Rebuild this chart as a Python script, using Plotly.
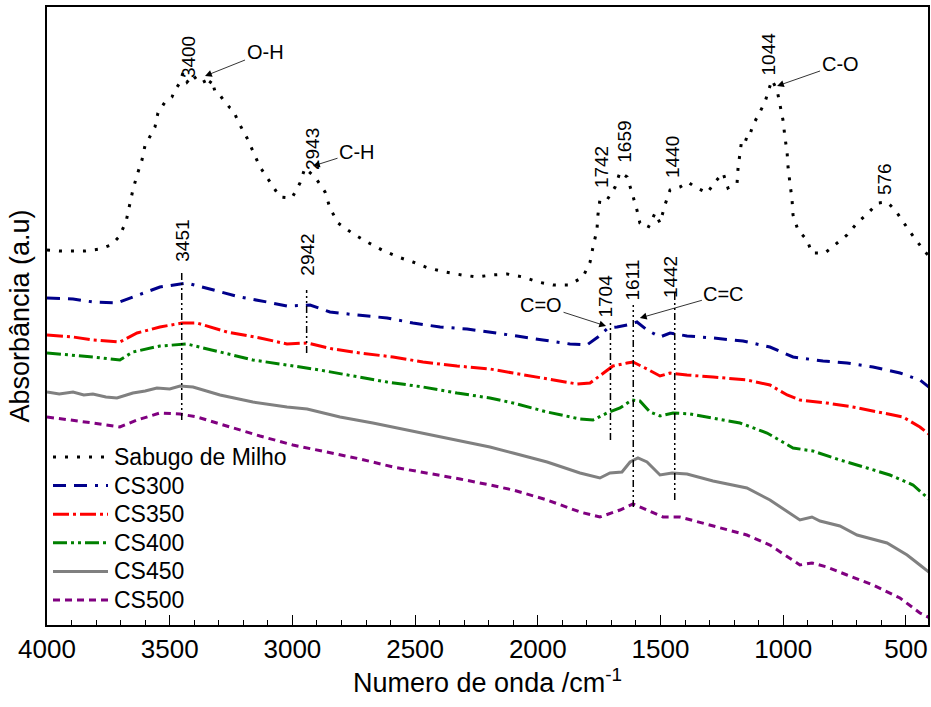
import plotly.graph_objects as go

# ---------------- data ----------------
wn_sabugo = [4000, 3947, 3894, 3845, 3784, 3739, 3707, 3678, 3666, 3650,
             3633, 3613, 3601, 3580, 3560, 3548, 3519, 3491, 3478, 3462,
             3446, 3429, 3405, 3389, 3364, 3348, 3328, 3315, 3295, 3287,
             3254, 3242, 3218, 3185, 3161, 3132, 3091, 3051, 3002, 2969,
             2949, 2908, 2867, 2847, 2814, 2757, 2696, 2635, 2570, 2509,
             2447, 2378, 2309, 2248, 2187, 2125, 2060, 1999, 1938, 1873,
             1816, 1787, 1775, 1759, 1755, 1747, 1718, 1685, 1665, 1636,
             1616, 1596, 1584, 1551, 1522, 1502, 1482, 1461, 1421, 1388,
             1359, 1310, 1278, 1245, 1225, 1188, 1184, 1176, 1168, 1143,
             1123, 1095, 1074, 1062, 1046, 1025, 1013, 1001, 993, 984,
             980, 972, 964, 960, 940, 903, 883, 830, 781, 740,
             699, 654, 614, 577, 544, 512, 483, 422, 398]
abs_sabugo = [375, 374, 374, 374, 376, 380, 388, 403, 417, 435,
              450, 465, 479, 488, 498, 512, 523, 528, 535, 541,
              552, 543, 550, 545, 546, 538, 545, 533, 530, 527,
              517, 515, 502, 487, 473, 458, 443, 428, 427, 442,
              457, 448, 433, 417, 402, 392, 383, 375, 368, 363,
              357, 353, 350, 348, 350, 351, 348, 343, 340, 340,
              348, 363, 378, 395, 410, 425, 425, 438, 453, 448,
              432, 415, 402, 397, 412, 402, 420, 435, 438, 443,
              438, 432, 443, 452, 437, 442, 457, 472, 487, 485,
              500, 513, 523, 533, 545, 535, 520, 505, 488, 472,
              457, 442, 425, 410, 395, 385, 372, 372, 382, 390,
              402, 412, 422, 423, 415, 403, 393, 373, 367]

wn_cs300 = [4000, 3894, 3813, 3715, 3650, 3540, 3430, 3324, 3214, 3104,
            3022, 2928, 2847, 2737, 2614, 2509, 2398, 2288, 2195, 2085,
            1979, 1869, 1800, 1755, 1714, 1677, 1636, 1596, 1555, 1502,
            1461, 1392, 1286, 1164, 1054, 960, 838, 740, 634, 524, 443, 402]
abs_cs300 = [327, 326, 323, 322, 328, 338, 342, 335, 328, 323,
             319, 320, 313, 310, 307, 302, 298, 296, 293, 289,
             285, 281, 280, 288, 297, 298, 300, 303, 295, 288,
             292, 289, 287, 284, 278, 268, 264, 262, 258, 252, 245, 237]

wn_cs350 = [4000, 3894, 3813, 3703, 3633, 3540, 3450, 3389, 3266, 3132,
            3022, 2940, 2835, 2724, 2590, 2468, 2329, 2195, 2101, 1962,
            1840, 1787, 1734, 1694, 1636, 1612, 1555, 1502, 1461, 1392,
            1286, 1148, 1054, 984, 932, 822, 716, 606, 512, 443, 402]
abs_cs350 = [290, 288, 285, 283, 292, 298, 302, 302, 293, 287,
             281, 282, 276, 272, 268, 263, 259, 256, 252, 246,
             241, 242, 252, 259, 262, 263, 256, 249, 252, 250,
             248, 245, 240, 230, 225, 222, 218, 213, 208, 198, 190]

wn_cs400 = [4000, 3894, 3813, 3703, 3650, 3540, 3430, 3295, 3161, 3022,
            2888, 2753, 2614, 2468, 2329, 2195, 2101, 1962, 1828, 1775,
            1718, 1665, 1616, 1584, 1543, 1502, 1449, 1380, 1286, 1176,
            1066, 960, 879, 769, 658, 565, 471, 402]
abs_cs400 = [272, 270, 268, 265, 273, 279, 281, 273, 265, 260,
             255, 249, 243, 238, 232, 227, 222, 213, 206, 205,
             212, 217, 225, 224, 213, 209, 212, 211, 207, 202,
             192, 177, 174, 165, 157, 150, 140, 125]

wn_cs450 = [4000, 3950, 3894, 3850, 3813, 3760, 3715, 3650, 3600, 3552,
            3500, 3458, 3405, 3295, 3161, 3022, 2940, 2806, 2672, 2533,
            2398, 2264, 2195, 2101, 1962, 1828, 1747, 1706, 1657, 1624,
            1592, 1555, 1502, 1453, 1392, 1286, 1148, 1054, 972, 932,
            883, 850, 769, 699, 577, 495, 443, 402]
abs_cs450 = [233, 231, 233, 230, 231, 228, 227, 232, 234, 237,
             236, 239, 238, 230, 223, 218, 216, 208, 202, 195,
             188, 182, 178, 172, 163, 152, 147, 152, 153, 163,
             167, 163, 150, 152, 151, 144, 137, 125, 112, 105,
             108, 104, 99, 90, 82, 70, 60, 52]

wn_cs500 = [4000, 3894, 3813, 3703, 3633, 3540, 3458, 3389, 3266, 3132,
            2998, 2859, 2724, 2590, 2452, 2317, 2195, 2101, 1962, 1828,
            1747, 1665, 1612, 1555, 1490, 1421, 1286, 1148, 1054, 984,
            932, 883, 822, 740, 634, 524, 443, 402]
abs_cs500 = [208, 205, 202, 198, 205, 212, 211, 208, 199, 189,
             180, 173, 166, 158, 152, 146, 140, 135, 125, 113,
             108, 115, 121, 115, 108, 108, 99, 90, 80, 68,
             60, 62, 58, 50, 40, 27, 12, 7]

series_names = ["Sabugo de Milho", "CS300", "CS350", "CS400", "CS450", "CS500"]
series_x = [wn_sabugo, wn_cs300, wn_cs350, wn_cs400, wn_cs450, wn_cs500]
series_y = [abs_sabugo, abs_cs300, abs_cs350, abs_cs400, abs_cs450, abs_cs500]
series_colors = ["#000000", "#00008B", "#FF0000", "#008000", "#808080", "#800080"]
series_dash = ["3px,9px", "13px,8px,13px,8px,3px,8px", "16px,4px,3px,4px",
               "14px,4px,3px,4px,3px,4px", "solid", "7px,5px"]

# vertical marker lines for the carbonised samples
peak_wn = [3451, 2942, 1704, 1611, 1442]
peak_y_low = [205, 272, 185, 118, 125]
peak_y_high = [355, 335, 305, 320, 335]

# rotated peak labels: text, position, bottom of label
label_text = ["3400", "2943", "3451", "2942", "1742", "1659", "1440", "1044",
              "576", "1704", "1611", "1442"]
label_wn = [3425, 2920, 3451, 2942, 1742, 1650, 1453, 1058, 589, 1726, 1616, 1461]
label_y = [545, 453, 361, 347, 435, 460, 445, 548, 428, 305, 322, 325]

# band assignments with arrows
band_text = ["O-H", "C-H", "C-O", "C=O", "C=C"]
band_wn = [3356, 2916, 1025, 1722, 1584]
band_y = [549, 459, 539, 299, 307]
band_ax = [60, 44, 63, -65, 84]
band_ay = [-24, -14, -22, -21, -24]

FONT = "Liberation Sans, Arial, sans-serif"
W, H = 931, 707
ML, MR, MT, MB = 47, 3, 7, 82

fig = go.Figure()

for name, xs, ys, col, dash in zip(series_names, series_x, series_y,
                                   series_colors, series_dash):
    fig.add_trace(go.Scatter(
        x=xs, y=ys, mode="lines", name=name, showlegend=False,
        line=dict(color=col, width=3, dash=dash),
    ))

for w, lo, hi in zip(peak_wn, peak_y_low, peak_y_high):
    fig.add_trace(go.Scatter(
        x=[w, w], y=[lo, hi], mode="lines", showlegend=False,
        line=dict(color="black", width=1.5, dash="7px,3px,2px,3px,2px,3px"),
        hoverinfo="skip",
    ))

for t, w, yv in zip(label_text, label_wn, label_y):
    fig.add_annotation(x=w, y=yv, text=t, textangle=-90, showarrow=False,
                       xanchor="center", yanchor="bottom",
                       font=dict(family=FONT, size=19, color="black"))

for t, w, yv, ax, ay in zip(band_text, band_wn, band_y, band_ax, band_ay):
    fig.add_annotation(x=w, y=yv, text=t, showarrow=True, ax=ax, ay=ay,
                       arrowhead=2, arrowsize=1.7, arrowwidth=0.8,
                       arrowcolor="black",
                       font=dict(family=FONT, size=20, color="black"))

# legend drawn as line samples + text (long samples like the original)
plot_h = H - MT - MB
plot_w = W - ML - MR
leg_top_px = 457          # centre of first row, from top of image
leg_step_px = 28.6
for i, (name, col, dash) in enumerate(zip(series_names, series_colors, series_dash)):
    ypx = leg_top_px + i * leg_step_px
    yp = (H - MB - ypx) / plot_h
    x0 = (53 - ML) / plot_w
    x1 = (108 - ML) / plot_w
    fig.add_shape(type="line", xref="paper", yref="paper",
                  x0=x0, x1=x1, y0=yp, y1=yp,
                  line=dict(color=col, width=3, dash=dash))
    fig.add_annotation(xref="paper", yref="paper", x=(112 - ML) / plot_w, y=yp,
                       text=name, showarrow=False, xanchor="left", yanchor="middle",
                       font=dict(family=FONT, size=23, color="black"))

fig.update_layout(
    width=W, height=H,
    margin=dict(l=ML, r=MR, t=MT, b=MB),
    paper_bgcolor="white", plot_bgcolor="white",
    font=dict(family=FONT, color="black"),
    showlegend=False,
)

fig.update_xaxes(
    range=[4000, 410], autorange=False, automargin=False,
    showline=True, linecolor="black", linewidth=1.5, mirror=True,
    ticks="inside", ticklen=10, tickwidth=1.2, tickcolor="black",
    dtick=500, tick0=0,
    minor=dict(ticks="inside", ticklen=5, dtick=100, tickcolor="black", tickwidth=1),
    showgrid=False, zeroline=False,
    tickfont=dict(family=FONT, size=26, color="black"),
    title=dict(text="Numero de onda /cm<sup>-1</sup>",
               font=dict(family=FONT, size=27, color="black"), standoff=8),
)
fig.update_yaxes(
    range=[0, 618], autorange=False, automargin=False,
    showline=True, linecolor="black", linewidth=1.5, mirror=True,
    showticklabels=False, ticks="", showgrid=False, zeroline=False,
    title=dict(text="Absorbância (a.u)",
               font=dict(family=FONT, size=27, color="black"), standoff=8),
)

fig.write_html("out.html",
               config={"displayModeBar": False},
               post_script="document.body.style.margin='0px';document.body.style.overflow='hidden';")
